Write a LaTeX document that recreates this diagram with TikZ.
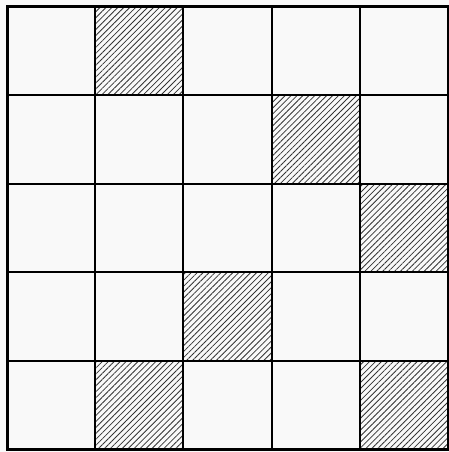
\documentclass[tikz,border=0pt]{standalone}
\usetikzlibrary{patterns.meta,backgrounds}

\begin{document}
\begin{tikzpicture}[x=1pt, y=-1pt,
  cell/.style={draw=black, line width=1.9pt, minimum width=88.2pt,
               minimum height=88.4pt, inner sep=0pt, outer sep=0pt},
  hatched/.style={pattern={Lines[angle=45, distance=4.2pt, line width=0.8pt]},
                  pattern color=black!80},
  frame/.style={draw=black, line width=3pt},
]
\useasboundingbox (0,0) rectangle (449,452);

% ---- 5x5 grid: cell (x,y), x rightward, y downward ----
\foreach \x in {0,1,2,3,4}
  \foreach \y in {0,1,2,3,4}
    \node[cell] (c\x\y) at (51.1+88.2*\x, 51.2+88.4*\y) {};

% ---- outer frame ----
\draw[frame] (c00.north west) rectangle (c44.south east);

% ---- paper and hatched cells behind the lines ----
\begin{scope}[on background layer]
  \fill[gray!5] (0,0) rectangle (449,452);
  \foreach \x/\y in {1/0, 3/1, 4/2, 2/3, 1/4, 4/4}
    \fill[hatched] (c\x\y.north west) rectangle (c\x\y.south east);
\end{scope}

\end{tikzpicture}
\end{document}
